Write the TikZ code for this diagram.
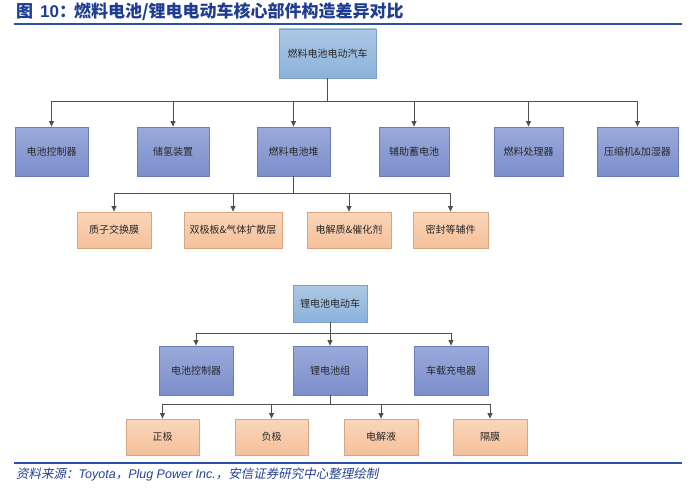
\documentclass[tikz,border=0pt]{standalone}
\usepackage{fontspec}
\newfontfamily\cjk{Noto Sans CJK SC}
\newfontfamily\cjkit[FakeSlant=0.2]{Noto Sans CJK SC}
\newfontfamily\latit{Liberation Sans Italic}
\newfontfamily\latbf{Liberation Sans Bold}
\usetikzlibrary{arrows.meta,shadings}
\definecolor{titleblue}{RGB}{32,62,145}
\definecolor{lineblue}{RGB}{44,80,165}
\definecolor{srcblue}{RGB}{36,64,150}
\definecolor{conncol}{RGB}{80,80,80}
\definecolor{topA}{RGB}{172,200,228}
\definecolor{topB}{RGB}{140,178,218}
\definecolor{topD}{RGB}{125,160,200}
\definecolor{midA}{RGB}{154,170,218}
\definecolor{midB}{RGB}{124,142,204}
\definecolor{midD}{RGB}{104,124,190}
\definecolor{orgA}{RGB}{250,214,186}
\definecolor{orgB}{RGB}{245,192,154}
\definecolor{orgD}{RGB}{216,166,128}
\definecolor{txt}{RGB}{40,40,40}
\tikzset{
  basebox/.style={draw, line width=0.8pt, inner sep=0pt, text=txt,
    font=\cjk\fontsize{10}{12}\selectfont, align=center},
  topbox/.style={basebox, draw=topD, top color=topA, bottom color=topB},
  midbox/.style={basebox, draw=midD, top color=midA, bottom color=midB},
  orgbox/.style={basebox, draw=orgD, top color=orgA, bottom color=orgB},
  conn/.style={draw=conncol, line width=0.9pt},
  arr/.style={conn, -{Triangle[width=5pt,length=5.5pt]}},
}
\begin{document}
\begin{tikzpicture}[x=1pt,y=-1pt]
\useasboundingbox (0,0) rectangle (700,487);
% title
\node[anchor=west, inner sep=0pt, text=titleblue] (title) at (16,12)
  {\cjk\bfseries\fontsize{17}{19}\selectfont 图\hspace{7pt}{\latbf 10}：\hspace{-2pt}燃料电池/锂电电动车核心部件构造差异对比};
\coordinate (tl1) at (14,24);
\coordinate (tl2) at (682,24);
\draw[lineblue, line width=1.6pt] (tl1) -- (tl2);

% fuel cell section
\node[topbox, minimum width=97pt, minimum height=49pt] (fc) at (327.5,53.5) {燃料电池电动汽车};
\node[midbox, minimum width=73pt, minimum height=49pt] (f1) at (51.5,151.5) {电池控制器};
\node[midbox, minimum width=72pt, minimum height=49pt] (f2) at (173,151.5) {储氢装置};
\node[midbox, minimum width=73pt, minimum height=49pt] (f3) at (293.5,151.5) {燃料电池堆};
\node[midbox, minimum width=70pt, minimum height=49pt] (f4) at (414,151.5) {辅助蓄电池};
\node[midbox, minimum width=69pt, minimum height=49pt] (f5) at (528.5,151.5) {燃料处理器};
\node[midbox, minimum width=81pt, minimum height=49pt] (f6) at (637.5,151.5) {压缩机\&加湿器};
\node[orgbox, minimum width=74pt, minimum height=36pt] (g1) at (114,230) {质子交换膜};
\node[orgbox, minimum width=98pt, minimum height=36pt] (g2) at (233,230) {双极板\&气体扩散层};
\node[orgbox, minimum width=84pt, minimum height=36pt] (g3) at (349,230) {电解质\&催化剂};
\node[orgbox, minimum width=75pt, minimum height=36pt] (g4) at (450.5,230) {密封等辅件};
\coordinate (fbar) at (327.5,101);
\coordinate (gbar) at (293.5,193);
\draw[conn] (fc.south) -- (fbar);
\foreach \n in {f1,f2,f3,f4,f5,f6} \draw[arr] (fbar) -| (\n.north);
\draw[conn] (f3.south) -- (gbar);
\foreach \n in {g1,g2,g3,g4} \draw[arr] (gbar) -| (\n.north);

% lithium section
\node[topbox, minimum width=74pt, minimum height=37pt] (ev) at (330,303.5) {锂电池电动车};
\node[midbox, minimum width=74pt, minimum height=49pt] (e1) at (196,370.5) {电池控制器};
\node[midbox, minimum width=74pt, minimum height=49pt] (e2) at (330,370.5) {锂电池组};
\node[midbox, minimum width=74pt, minimum height=49pt] (e3) at (451,370.5) {车载充电器};
\node[orgbox, minimum width=73pt, minimum height=36pt] (h1) at (162.5,437) {正极};
\node[orgbox, minimum width=73pt, minimum height=36pt] (h2) at (271.5,437) {负极};
\node[orgbox, minimum width=74pt, minimum height=36pt] (h3) at (381,437) {电解液};
\node[orgbox, minimum width=74pt, minimum height=36pt] (h4) at (490,437) {隔膜};
\coordinate (ebar) at (330,333);
\coordinate (hbar) at (330,404);
\draw[conn] (ev.south) -- (ebar);
\foreach \n in {e1,e2,e3} \draw[arr] (ebar) -| (\n.north);
\draw[conn] (e2.south) -- (hbar);
\foreach \n in {h1,h2,h3,h4} \draw[arr] (hbar) -| (\n.north);

% footer
\coordinate (bl1) at (14,463);
\coordinate (bl2) at (682,463);
\draw[lineblue, line width=1.4pt] (bl1) -- (bl2);
\node[anchor=west, inner sep=0pt, text=srcblue] (src) at (16,474)
  {\fontsize{12.5}{14}\selectfont\cjkit 资料来源：{\latit Toyota}，{\latit Plug Power Inc.}，安信证券研究中心整理绘制};
\end{tikzpicture}
\end{document}
